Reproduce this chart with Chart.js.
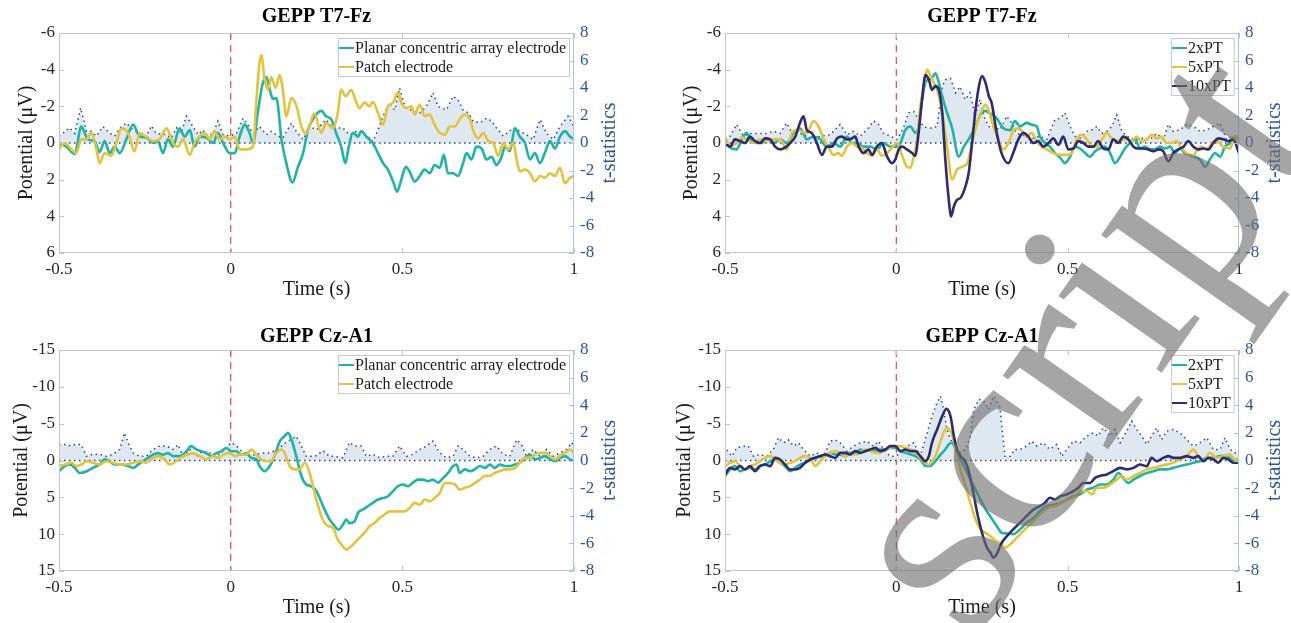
<!DOCTYPE html>
<html><head><meta charset="utf-8">
<script src="https://cdn.jsdelivr.net/npm/chart.js@4.4.1/dist/chart.umd.min.js"></script>
<style>
html,body{margin:0;padding:0;background:#fff;width:1291px;height:623px;overflow:hidden;position:relative}
canvas{position:absolute}
#wm{pointer-events:none}
</style></head><body>
<canvas id="c1" width="645" height="311" style="left:0;top:0"></canvas>
<canvas id="c2" width="646" height="311" style="left:645px;top:0"></canvas>
<canvas id="c3" width="645" height="312" style="left:0;top:311px"></canvas>
<canvas id="c4" width="646" height="312" style="left:645px;top:311px"></canvas>
<canvas id="wm" width="1291" height="623" style="left:0;top:0"></canvas>
<script>
// ---------- labels & ticks ----------
const panelTitles = ['GEPP T7-Fz', 'GEPP T7-Fz', 'GEPP Cz-A1', 'GEPP Cz-A1'];
const electrodeLabels = ['Planar concentric array electrode', 'Patch electrode'];
const pulseLabels = ['2xPT', '5xPT', '10xPT'];
const xTitle = 'Time (s)';
const yTitle = 'Potential (\u03BCV)';
const y2Title = 't-statistics';
const watermarkText = 'script';
const timeTicks = [-0.5, 0, 0.5, 1];
const ticksT7 = [-6, -4, -2, 0, 2, 4, 6];
const ticksCz = [-15, -10, -5, 0, 5, 10, 15];
const tTicks = [-8, -6, -4, -2, 0, 2, 4, 6, 8];
const stimulusTime = 0;

// ---------- panel 1: T7-Fz, electrodes ----------
const p1Planar = [[-0.5,0],[-0.479,0.2],[-0.454,0.6],[-0.435,-0.9],[-0.416,-0.2],[-0.396,-0.1],[-0.382,0.5],[-0.367,-0.1],[-0.352,0.55],[-0.338,0.2],[-0.323,0.55],[-0.304,-0.2],[-0.284,-1.0],[-0.265,-0.35],[-0.246,-0.3],[-0.226,0],[-0.212,-0.1],[-0.197,0.55],[-0.183,-0.2],[-0.168,0.2],[-0.149,-0.8],[-0.134,-0.35],[-0.119,-0.7],[-0.105,0.2],[-0.09,-0.35],[-0.071,-0.3],[-0.051,0],[-0.037,-0.55],[-0.022,0],[-0.003,0.55],[0.012,0.55],[0.026,-0.35],[0.041,-1.0],[0.055,-0.55],[0.065,0],[0.08,-1.8],[0.094,-3.3],[0.104,-3.6],[0.114,-2.9],[0.123,-2.4],[0.133,-2.45],[0.148,-0.2],[0.162,1.1],[0.18,2.15],[0.196,1.3],[0.211,0.55],[0.225,-0.7],[0.245,-1.45],[0.264,-1.75],[0.278,-1.45],[0.293,-1.3],[0.307,-0.55],[0.322,0.2],[0.334,1.1],[0.344,0.2],[0.356,-0.55],[0.371,-0.35],[0.38,-0.65],[0.395,-0.35],[0.414,0],[0.429,0.55],[0.444,1.1],[0.458,1.45],[0.473,2.1],[0.485,2.65],[0.497,2.0],[0.51,1.3],[0.521,1.55],[0.536,2.1],[0.551,1.8],[0.565,1.45],[0.58,1.65],[0.594,1.2],[0.609,1.35],[0.621,0.65],[0.633,1.65],[0.648,1.65],[0.662,1.8],[0.677,1.1],[0.687,0.55],[0.701,0.9],[0.716,0.2],[0.731,0.3],[0.745,0.9],[0.76,0.75],[0.774,1.2],[0.789,0.75],[0.799,0.2],[0.813,0.45],[0.828,-0.8],[0.842,-0.35],[0.857,0],[0.872,0.9],[0.886,0.55],[0.901,1.1],[0.915,0.55],[0.93,-0.1],[0.945,0.3],[0.959,-0.35],[0.974,-0.65],[0.988,-0.35],[1.0,-0.2]];
const p1Patch = [[-0.5,0.35],[-0.483,0],[-0.464,0.35],[-0.45,0.55],[-0.435,-0.2],[-0.42,-0.2],[-0.406,-0.55],[-0.391,0.35],[-0.382,1.1],[-0.367,0.55],[-0.348,0.7],[-0.333,0],[-0.318,-0.8],[-0.299,-0.55],[-0.28,0.45],[-0.265,-0.55],[-0.246,-0.35],[-0.226,-0.1],[-0.207,-0.2],[-0.187,-0.8],[-0.168,0],[-0.153,0.2],[-0.139,-0.2],[-0.119,0.65],[-0.105,0],[-0.09,-0.35],[-0.076,-0.55],[-0.061,-0.2],[-0.047,-0.65],[-0.032,-0.2],[-0.017,-0.35],[-0.003,-0.2],[0.012,-0.35],[0.026,0.35],[0.046,0.35],[0.065,0.2],[0.075,-2.35],[0.083,-4.2],[0.089,-4.8],[0.099,-3.45],[0.109,-2.9],[0.118,-3.6],[0.131,-3.0],[0.143,-3.7],[0.152,-2.9],[0.162,-1.45],[0.177,-2.45],[0.192,-2.0],[0.206,-0.9],[0.22,-0.5],[0.244,-1.6],[0.264,-0.55],[0.278,-1.1],[0.298,-0.8],[0.312,-1.65],[0.322,-2.9],[0.335,-2.55],[0.351,-2.9],[0.366,-2.2],[0.375,-1.9],[0.39,-2.2],[0.405,-2.0],[0.414,-2.25],[0.429,-1.65],[0.444,-1.0],[0.458,-2.0],[0.473,-2.2],[0.487,-2.75],[0.497,-2.2],[0.512,-1.9],[0.526,-2.0],[0.536,-1.55],[0.551,-2.1],[0.565,-1.45],[0.58,-1.55],[0.594,-1.0],[0.609,-0.55],[0.624,-0.45],[0.638,-0.9],[0.653,-0.9],[0.667,-1.3],[0.682,-1.55],[0.697,-1.3],[0.706,-0.7],[0.721,-0.25],[0.736,-0.55],[0.75,-0.1],[0.765,0],[0.779,0.7],[0.794,0],[0.808,0.35],[0.823,0],[0.833,0.9],[0.842,1.55],[0.857,1.45],[0.872,1.65],[0.886,2.1],[0.901,1.8],[0.915,1.9],[0.93,1.65],[0.945,1.8],[0.959,1.35],[0.974,2.2],[0.988,1.9],[1.0,1.8]];
const p1TStat = [[-0.5,0.5],[-0.469,1.1],[-0.454,0.7],[-0.437,2.55],[-0.42,0.85],[-0.406,0.85],[-0.391,0.5],[-0.372,1.2],[-0.352,0.7],[-0.338,0.5],[-0.323,1.1],[-0.304,1.45],[-0.284,0.95],[-0.265,0.7],[-0.246,0.5],[-0.231,1.25],[-0.217,0.7],[-0.187,0.6],[-0.173,0.35],[-0.158,1.1],[-0.144,0.7],[-0.129,1.95],[-0.11,1.2],[-0.095,0.6],[-0.081,0.95],[-0.066,0.5],[-0.051,0.7],[-0.037,1.6],[-0.022,0.6],[-0.003,0.5],[0.017,0.7],[0.036,1.8],[0.05,1.35],[0.065,0.7],[0.084,1.2],[0.104,0.6],[0.118,0.85],[0.138,0.5],[0.152,0.35],[0.177,1.45],[0.191,0.85],[0.211,0.25],[0.23,1.2],[0.25,0.95],[0.278,1.7],[0.298,1.1],[0.327,1.1],[0.346,0.6],[0.366,0.85],[0.395,0.6],[0.414,0.1],[0.429,0.95],[0.448,2.2],[0.463,2.9],[0.478,2.4],[0.492,4.0],[0.507,2.65],[0.531,2.3],[0.551,2.2],[0.57,2.65],[0.589,3.65],[0.604,2.65],[0.628,2.4],[0.648,3.4],[0.662,3.15],[0.677,2.4],[0.692,2.2],[0.706,1.6],[0.726,1.45],[0.745,1.8],[0.76,1.6],[0.774,1.1],[0.794,0.5],[0.823,1.1],[0.842,0.85],[0.862,0.6],[0.881,0.25],[0.901,1.7],[0.92,0.7],[0.94,0.25],[0.959,1.2],[0.983,1.95],[1.0,1.2]];

// ---------- panel 2: T7-Fz, pulse trains ----------
const p2Pulse2 = [[-0.5,0],[-0.48,0.3],[-0.466,0.35],[-0.451,-0.2],[-0.437,-0.55],[-0.422,-0.1],[-0.407,0],[-0.393,0],[-0.378,-0.2],[-0.359,0],[-0.339,-0.2],[-0.32,0],[-0.3,-0.55],[-0.281,-0.8],[-0.261,-0.2],[-0.242,-0.35],[-0.222,-0.2],[-0.203,0.2],[-0.183,0],[-0.164,0.2],[-0.144,-0.35],[-0.13,0],[-0.115,0],[-0.096,0.2],[-0.076,0.2],[-0.057,0.35],[-0.037,0],[-0.018,0.2],[-0.003,0.2],[0.012,0],[0.026,-0.7],[0.041,-0.9],[0.056,-0.55],[0.065,-0.9],[0.075,-2.35],[0.085,-3.3],[0.095,-3.45],[0.104,-3.55],[0.114,-3.8],[0.124,-3.3],[0.134,-2.55],[0.148,-1.65],[0.163,-0.8],[0.182,0.75],[0.197,0.2],[0.211,-0.2],[0.231,-0.9],[0.244,-1.5],[0.259,-1.75],[0.275,-1.6],[0.293,-1.35],[0.312,-0.8],[0.332,-0.7],[0.346,-1.2],[0.361,-0.9],[0.38,-1.1],[0.395,-1.0],[0.41,-0.9],[0.419,-0.35],[0.434,0],[0.448,0.2],[0.463,0.55],[0.478,0.8],[0.492,1.1],[0.507,0.75],[0.521,0.2],[0.536,0.3],[0.551,0.55],[0.565,0.75],[0.58,0.45],[0.594,0.3],[0.609,0.2],[0.624,0.55],[0.638,1.1],[0.653,0.75],[0.667,0.3],[0.682,0],[0.697,-0.2],[0.711,0.3],[0.726,0.2],[0.74,0.35],[0.755,0.35],[0.769,0.2],[0.784,0.3],[0.799,0.2],[0.813,0.55],[0.828,0.3],[0.842,0.55],[0.857,0.65],[0.872,0.75],[0.886,0.9],[0.901,1.3],[0.915,0.9],[0.93,0.55],[0.945,0.75],[0.959,0.2],[0.974,0],[0.988,-0.35],[1.0,-0.2]];
const p2Pulse5 = [[-0.5,-0.35],[-0.485,0.2],[-0.466,0],[-0.451,-0.3],[-0.437,-0.2],[-0.417,0],[-0.398,-0.2],[-0.378,-0.1],[-0.359,-0.2],[-0.339,-0.2],[-0.32,0.35],[-0.305,-0.55],[-0.29,-0.7],[-0.281,-0.65],[-0.261,-0.55],[-0.242,-1.2],[-0.227,-0.9],[-0.212,-0.2],[-0.198,0.25],[-0.183,0.65],[-0.169,0.55],[-0.159,0.7],[-0.144,0.2],[-0.13,0],[-0.115,0.2],[-0.101,0.25],[-0.086,0.55],[-0.071,0.7],[-0.057,0.35],[-0.042,0.7],[-0.027,0.55],[-0.013,0.25],[0.002,0],[0.017,0.7],[0.031,1.3],[0.041,1.35],[0.051,0.7],[0.061,-0.2],[0.07,-2.0],[0.08,-3.1],[0.09,-4.0],[0.1,-3.65],[0.109,-3.3],[0.119,-2.9],[0.134,-1.65],[0.148,0.2],[0.163,2.0],[0.177,1.45],[0.192,1.3],[0.207,1.1],[0.221,0],[0.236,-1.1],[0.25,-1.8],[0.26,-2.1],[0.272,-1.65],[0.283,-0.9],[0.298,-0.2],[0.312,0.35],[0.327,0],[0.341,-0.65],[0.356,-0.8],[0.371,-0.55],[0.38,-0.35],[0.395,-0.55],[0.41,-0.1],[0.424,0.2],[0.439,0.35],[0.458,0.55],[0.478,0.65],[0.497,0.65],[0.512,0.55],[0.526,-0.2],[0.541,-0.45],[0.556,-0.2],[0.571,0.2],[0.585,0.2],[0.6,-0.2],[0.614,-0.55],[0.629,-0.25],[0.643,-0.1],[0.658,-0.2],[0.672,-0.2],[0.687,-0.1],[0.701,-0.35],[0.716,-0.1],[0.731,-0.2],[0.745,-0.45],[0.76,-0.25],[0.774,-0.35],[0.789,0],[0.804,0],[0.818,-0.1],[0.833,0.3],[0.847,0.55],[0.862,0.75],[0.876,0.45],[0.891,0.2],[0.906,0.35],[0.92,0],[0.935,-0.1],[0.954,0.2],[0.974,0.3],[0.988,-0.35],[1.0,-0.2]];
const p2Pulse10 = [[-0.5,0],[-0.485,0.2],[-0.471,-0.2],[-0.456,-0.1],[-0.442,0],[-0.427,-0.35],[-0.412,-0.1],[-0.398,0],[-0.383,-0.25],[-0.368,-0.2],[-0.354,0.2],[-0.339,0.35],[-0.325,0.25],[-0.31,0],[-0.295,-0.35],[-0.281,-1.1],[-0.271,-1.45],[-0.261,-0.7],[-0.247,-0.55],[-0.232,0],[-0.217,0.65],[-0.203,0.2],[-0.188,0.2],[-0.173,-0.25],[-0.159,-0.35],[-0.144,-0.2],[-0.13,-0.25],[-0.12,-0.35],[-0.11,0.2],[-0.096,0.55],[-0.081,0.35],[-0.071,0.65],[-0.057,0.2],[-0.042,0],[-0.028,0.7],[-0.013,1.1],[-0.003,0.9],[0.007,0.35],[0.017,0.2],[0.031,0.35],[0.046,0.55],[0.055,0.7],[0.065,-0.55],[0.075,-2.35],[0.085,-3.7],[0.095,-3.45],[0.104,-2.9],[0.114,-3.1],[0.124,-2.9],[0.134,-1.65],[0.143,0.9],[0.153,3.1],[0.16,4.0],[0.168,3.45],[0.177,3.1],[0.187,3.0],[0.202,2.35],[0.211,1.65],[0.221,0],[0.231,-1.8],[0.241,-3.1],[0.25,-3.65],[0.26,-3.3],[0.27,-2.55],[0.278,-2.2],[0.293,-0.55],[0.307,0.55],[0.327,1.1],[0.341,0.55],[0.356,-0.2],[0.371,-0.55],[0.385,-0.35],[0.4,0],[0.414,-0.1],[0.429,0.2],[0.444,0],[0.458,-0.25],[0.473,0.1],[0.487,-0.35],[0.502,0.35],[0.517,0.3],[0.531,-0.1],[0.546,0],[0.56,0.2],[0.575,0.2],[0.589,-0.1],[0.604,0.3],[0.619,0.35],[0.633,-0.2],[0.648,0],[0.662,-0.35],[0.677,-0.2],[0.692,0.2],[0.706,0.3],[0.721,0.3],[0.735,0.35],[0.75,0.45],[0.765,0.35],[0.779,0.45],[0.794,1.0],[0.808,0.55],[0.823,0.35],[0.838,0.2],[0.852,-0.1],[0.867,0.2],[0.881,0.35],[0.896,0.3],[0.911,0.35],[0.925,0],[0.94,-0.25],[0.954,-0.2],[0.969,-0.1],[0.983,-0.2],[1.0,0.55]];
const p2TStat = [[-0.5,0.3],[-0.485,0.5],[-0.466,1.35],[-0.446,0.5],[-0.427,0.7],[-0.407,0.7],[-0.378,0.7],[-0.359,0.85],[-0.339,0.7],[-0.32,1.45],[-0.3,0.5],[-0.281,0.7],[-0.261,0.5],[-0.242,0.25],[-0.222,0.5],[-0.193,0.6],[-0.164,1.35],[-0.144,0.6],[-0.125,0.85],[-0.105,0.5],[-0.086,0.95],[-0.066,1.6],[-0.052,1.35],[-0.037,0.7],[-0.018,0.5],[0.002,0.25],[0.021,1.1],[0.036,2.2],[0.051,2.3],[0.065,1.7],[0.08,1.2],[0.09,1.1],[0.104,1.1],[0.119,1.2],[0.134,4.1],[0.143,4.6],[0.158,4.7],[0.173,3.65],[0.186,4.1],[0.201,3.15],[0.215,3.65],[0.23,1.95],[0.244,3.15],[0.259,1.7],[0.273,1.1],[0.283,1.2],[0.303,0.95],[0.322,1.95],[0.337,1.45],[0.351,0.7],[0.38,0.5],[0.4,0.35],[0.419,0.5],[0.439,0.25],[0.463,1.7],[0.478,1.8],[0.492,2.2],[0.507,1.2],[0.521,0.5],[0.536,0.35],[0.556,0.85],[0.57,0.95],[0.585,1.2],[0.6,0.7],[0.614,0.85],[0.629,1.2],[0.643,2.05],[0.658,0.85],[0.672,0.5],[0.692,0.25],[0.716,0.35],[0.74,0.25],[0.76,0.7],[0.779,0.25],[0.794,1.35],[0.808,0.85],[0.828,0.95],[0.847,1.35],[0.867,1.2],[0.886,0.85],[0.906,0.95],[0.925,1.2],[0.945,1.45],[0.964,0.25],[0.979,0.5],[1.0,0.5]];

// ---------- panel 3: Cz-A1, electrodes ----------
const p3Planar = [[-0.5,1.45],[-0.483,0.75],[-0.468,0.55],[-0.454,1.0],[-0.439,1.7],[-0.419,1.45],[-0.401,1.0],[-0.382,0.55],[-0.367,-0.15],[-0.353,0.1],[-0.338,0.55],[-0.318,0.55],[-0.299,0.75],[-0.284,1.0],[-0.27,0.55],[-0.255,0.1],[-0.241,-0.35],[-0.226,-0.8],[-0.212,-1.0],[-0.197,-0.8],[-0.183,-1.0],[-0.168,-0.6],[-0.149,-0.6],[-0.129,-1.25],[-0.115,-1.95],[-0.1,-1.5],[-0.085,-1.25],[-0.071,-1.0],[-0.056,-0.6],[-0.042,-1.0],[-0.027,-1.25],[-0.013,-1.7],[0.002,-1.25],[0.016,-1.25],[0.031,-0.8],[0.046,-1.0],[0.06,-0.35],[0.075,-0.15],[0.084,0.75],[0.099,1.45],[0.114,0.75],[0.128,-0.6],[0.143,-2.6],[0.157,-3.3],[0.167,-3.75],[0.177,-2.85],[0.191,-0.6],[0.206,2.1],[0.22,3.25],[0.235,3.5],[0.25,4.15],[0.262,5.4],[0.275,6.8],[0.288,8.0],[0.303,8.9],[0.314,9.4],[0.327,8.7],[0.337,8.0],[0.346,8.5],[0.361,8.25],[0.371,7.1],[0.385,6.65],[0.4,6.2],[0.414,5.75],[0.429,5.3],[0.444,5.1],[0.458,4.85],[0.473,4.15],[0.487,3.5],[0.502,3.25],[0.517,3.5],[0.531,3.0],[0.546,2.6],[0.56,2.6],[0.575,2.8],[0.589,2.6],[0.604,3.0],[0.619,2.35],[0.633,1.7],[0.648,0.75],[0.658,0.55],[0.667,1.7],[0.682,1.2],[0.697,1.45],[0.711,1.2],[0.726,0.75],[0.74,1.0],[0.755,0.55],[0.769,1.0],[0.784,0.55],[0.799,0.75],[0.813,0.75],[0.828,0.55],[0.842,0.3],[0.857,-0.35],[0.872,-0.8],[0.886,-0.15],[0.901,-0.35],[0.915,-0.6],[0.93,-0.15],[0.945,0.1],[0.959,-0.35],[0.974,-0.6],[0.988,-0.15],[1.0,0.1]];
const p3Patch = [[-0.5,0.75],[-0.483,0.55],[-0.464,0.3],[-0.45,0.75],[-0.435,0.55],[-0.42,0.1],[-0.401,0.3],[-0.382,0.55],[-0.362,0.1],[-0.343,0.3],[-0.323,0.55],[-0.304,0.55],[-0.284,0.3],[-0.265,0.1],[-0.246,0.3],[-0.226,-0.35],[-0.212,-0.6],[-0.192,-0.15],[-0.178,0.55],[-0.158,0.1],[-0.139,-0.6],[-0.124,-0.8],[-0.11,-1.0],[-0.09,-0.6],[-0.071,-0.15],[-0.051,-0.6],[-0.037,-0.35],[-0.022,-0.8],[-0.003,-1.0],[0.012,-0.6],[0.026,-0.8],[0.046,-0.8],[0.06,-1.5],[0.075,-0.8],[0.089,-0.15],[0.104,0.1],[0.118,0.1],[0.133,-1.05],[0.148,-1.5],[0.157,-1.05],[0.172,0.75],[0.186,1.2],[0.2,1.2],[0.216,0.3],[0.23,1.7],[0.247,4.85],[0.264,7.55],[0.28,8.8],[0.298,9.15],[0.312,10.75],[0.327,11.65],[0.337,12.1],[0.346,11.85],[0.361,11.2],[0.375,10.5],[0.39,9.8],[0.405,8.9],[0.419,8.5],[0.434,7.8],[0.448,7.35],[0.463,6.9],[0.478,6.9],[0.492,6.9],[0.507,6.9],[0.521,6.45],[0.536,5.75],[0.551,6.0],[0.565,5.3],[0.58,5.55],[0.594,5.1],[0.609,4.4],[0.624,3.05],[0.638,3.05],[0.653,3.25],[0.667,3.95],[0.682,3.7],[0.697,3.5],[0.711,3.05],[0.726,2.6],[0.74,2.1],[0.755,2.1],[0.769,1.7],[0.784,1.45],[0.799,1.2],[0.813,1.2],[0.828,1.0],[0.842,0.3],[0.857,-0.35],[0.872,-0.35],[0.886,-0.8],[0.901,-1.05],[0.915,-1.05],[0.93,-0.6],[0.945,-0.15],[0.959,-0.6],[0.974,-1.05],[0.988,-1.5],[1.0,-1.05]];
const p3TStat = [[-0.5,1.15],[-0.483,1.15],[-0.464,1.05],[-0.454,1.15],[-0.435,1.15],[-0.42,0.3],[-0.401,0.45],[-0.382,0.45],[-0.362,0.3],[-0.343,0.45],[-0.323,0.8],[-0.309,2.0],[-0.299,1.3],[-0.284,0.55],[-0.265,0.3],[-0.246,0.3],[-0.226,0.8],[-0.207,1.05],[-0.187,1.05],[-0.168,0.8],[-0.153,1.15],[-0.139,0.3],[-0.119,0.8],[-0.1,0.3],[-0.081,0.7],[-0.061,0.55],[-0.042,0.3],[-0.022,0.7],[0.002,1.3],[0.017,1.05],[0.036,0.55],[0.055,0.3],[0.075,0.45],[0.094,0.55],[0.114,0.55],[0.138,0.8],[0.152,1.15],[0.167,1.4],[0.191,1.75],[0.206,1.05],[0.22,0.3],[0.245,0.3],[0.269,0.7],[0.288,0.3],[0.298,0.3],[0.327,0.2],[0.346,1.3],[0.361,1.05],[0.38,1.05],[0.395,0.3],[0.414,0.45],[0.434,0.2],[0.453,0.3],[0.473,0.3],[0.492,1.05],[0.512,0.3],[0.531,0.45],[0.551,0.8],[0.57,1.05],[0.589,1.4],[0.609,0.55],[0.628,0.2],[0.648,0.3],[0.662,1.05],[0.677,0.8],[0.697,0.3],[0.716,0.2],[0.735,0.3],[0.755,0.8],[0.774,1.05],[0.794,0.45],[0.813,0.3],[0.833,1.5],[0.847,1.15],[0.862,0.3],[0.881,0.8],[0.901,0.3],[0.92,0.8],[0.94,0.3],[0.959,0.55],[0.979,0.8],[0.993,1.3],[1.0,1.0]];

// ---------- panel 4: Cz-A1, pulse trains ----------
const p4Pulse2 = [[-0.5,2.1],[-0.485,1.2],[-0.471,0.75],[-0.456,1.45],[-0.442,1.2],[-0.427,1.0],[-0.412,1.2],[-0.398,0.75],[-0.383,0.55],[-0.368,0.1],[-0.354,-0.15],[-0.339,0.3],[-0.325,0.75],[-0.31,1.45],[-0.295,1.0],[-0.281,0.55],[-0.266,0.3],[-0.251,-0.15],[-0.237,-0.35],[-0.222,-0.6],[-0.208,-0.6],[-0.193,-1.05],[-0.178,-0.8],[-0.164,-0.8],[-0.149,-0.6],[-0.135,-1.05],[-0.12,-1.05],[-0.105,-1.5],[-0.091,-1.25],[-0.076,-1.5],[-0.061,-1.25],[-0.047,-1.5],[-0.032,-1.5],[-0.018,-1.7],[-0.003,-1.7],[0.012,-1.25],[0.026,-1.05],[0.041,-0.8],[0.056,-0.6],[0.07,-0.15],[0.085,0.75],[0.099,0.75],[0.114,0.1],[0.129,-0.8],[0.143,-1.5],[0.153,-2.2],[0.163,-2.4],[0.173,-1.5],[0.182,-0.6],[0.197,0.75],[0.211,2.1],[0.226,3.5],[0.241,4.85],[0.255,6.2],[0.27,7.3],[0.293,8.9],[0.307,9.8],[0.322,9.9],[0.341,10.0],[0.361,9.35],[0.38,8.45],[0.4,7.8],[0.419,6.9],[0.439,6.2],[0.458,6.0],[0.478,5.75],[0.497,5.3],[0.517,4.85],[0.536,4.6],[0.556,3.95],[0.575,3.7],[0.594,3.25],[0.614,3.25],[0.633,2.6],[0.648,1.7],[0.662,2.35],[0.677,3.05],[0.692,2.6],[0.711,2.1],[0.731,1.7],[0.75,1.45],[0.769,1.2],[0.789,1.2],[0.808,1.0],[0.828,0.75],[0.847,0.55],[0.867,0.3],[0.886,0.1],[0.906,-0.35],[0.925,-0.35],[0.945,-0.6],[0.964,-0.6],[0.983,0.1],[1.0,0.3]];
const p4Pulse5 = [[-0.5,0.77],[-0.485,0.32],[-0.471,0.09],[-0.456,0.77],[-0.442,1.22],[-0.427,0.77],[-0.412,0.54],[-0.398,0.09],[-0.383,-0.36],[-0.368,-0.59],[-0.354,-0.14],[-0.339,0.32],[-0.325,0.54],[-0.31,0.32],[-0.295,0.09],[-0.281,-0.36],[-0.266,-0.59],[-0.251,-0.36],[-0.237,0.77],[-0.222,0.09],[-0.208,-0.59],[-0.193,-1.04],[-0.178,-1.27],[-0.164,-1.04],[-0.149,-0.59],[-0.135,-0.81],[-0.12,-0.81],[-0.105,-1.04],[-0.091,-1.49],[-0.076,-1.27],[-0.061,-1.04],[-0.047,-1.04],[-0.032,-1.49],[-0.018,-1.72],[-0.003,-1.95],[0.012,-1.95],[0.026,-1.72],[0.041,-1.49],[0.056,-1.04],[0.07,-0.36],[0.085,0.32],[0.095,0.54],[0.104,0.09],[0.114,-0.59],[0.129,-2.62],[0.138,-3.76],[0.148,-4.43],[0.158,-3.98],[0.168,-2.62],[0.177,-0.59],[0.187,1.22],[0.202,3.48],[0.216,5.75],[0.231,8.01],[0.246,9.37],[0.26,9.82],[0.275,10.27],[0.29,10.9],[0.302,11.2],[0.317,11.85],[0.332,11.4],[0.346,10.75],[0.366,9.8],[0.385,8.9],[0.405,8.0],[0.424,7.1],[0.444,6.4],[0.463,6.2],[0.483,5.75],[0.502,5.3],[0.521,4.85],[0.541,4.15],[0.556,4.15],[0.571,4.6],[0.585,3.7],[0.604,3.7],[0.624,3.25],[0.643,2.6],[0.658,2.1],[0.672,2.6],[0.692,2.1],[0.711,1.7],[0.731,1.2],[0.75,1.0],[0.769,0.75],[0.789,0.55],[0.808,0.3],[0.828,-0.15],[0.847,-0.6],[0.867,-1.5],[0.881,-0.6],[0.896,0.1],[0.915,-1.05],[0.935,-0.35],[0.954,-0.6],[0.974,-0.8],[0.988,-0.15],[1.0,-0.15]];
const p4Pulse10 = [[-0.5,1.9],[-0.485,1.0],[-0.471,1.22],[-0.456,0.77],[-0.442,1.22],[-0.427,0.77],[-0.412,1.45],[-0.398,0.77],[-0.383,0.54],[-0.368,0.77],[-0.354,-0.36],[-0.339,-0.14],[-0.325,0.54],[-0.31,1.22],[-0.295,1.22],[-0.281,1.0],[-0.266,0.32],[-0.251,-0.14],[-0.237,-0.36],[-0.222,-0.59],[-0.208,-0.81],[-0.193,-0.59],[-0.178,-0.36],[-0.164,-1.04],[-0.149,-1.04],[-0.135,-0.81],[-0.12,-1.27],[-0.105,-1.04],[-0.091,-1.27],[-0.076,-1.49],[-0.061,-1.72],[-0.047,-1.27],[-0.032,-1.49],[-0.018,-1.95],[-0.003,-1.95],[0.012,-1.27],[0.026,-1.49],[0.041,-1.27],[0.056,-1.27],[0.07,-0.59],[0.085,0.09],[0.095,-0.59],[0.104,-2.4],[0.119,-4.21],[0.134,-6.02],[0.146,-7.01],[0.158,-6.02],[0.168,-3.3],[0.177,-1.49],[0.187,-0.59],[0.197,-0.14],[0.207,0.77],[0.221,3.48],[0.236,7.1],[0.25,9.82],[0.265,11.86],[0.275,12.53],[0.283,13.2],[0.293,12.7],[0.307,11.2],[0.322,10.3],[0.341,9.35],[0.361,8.45],[0.38,7.55],[0.4,6.65],[0.419,6.2],[0.434,5.75],[0.448,5.05],[0.463,5.3],[0.478,4.85],[0.497,4.6],[0.517,4.15],[0.531,3.7],[0.546,3.05],[0.565,3.05],[0.58,2.35],[0.594,2.1],[0.614,1.9],[0.633,1.45],[0.653,1.0],[0.672,1.2],[0.692,1.0],[0.711,0.55],[0.731,0.77],[0.745,-0.35],[0.76,0.1],[0.779,-0.35],[0.794,-0.6],[0.808,-0.35],[0.828,-0.35],[0.847,-0.6],[0.867,-0.35],[0.881,-0.6],[0.896,0.1],[0.91,-0.35],[0.925,-0.15],[0.94,0.3],[0.954,-0.35],[0.969,-0.15],[0.983,0.3],[1.0,0.3]];
const p4TStat = [[-0.5,0.5],[-0.495,0.8],[-0.48,0.3],[-0.466,0.92],[-0.446,1.04],[-0.432,1.04],[-0.417,0.3],[-0.398,0.44],[-0.378,0.3],[-0.359,0.8],[-0.344,1.65],[-0.329,1.28],[-0.315,1.5],[-0.3,1.04],[-0.286,1.28],[-0.271,0.8],[-0.251,0.3],[-0.232,0.56],[-0.212,0.3],[-0.193,1.4],[-0.178,1.5],[-0.164,1.28],[-0.144,0.68],[-0.125,1.04],[-0.105,1.28],[-0.086,1.4],[-0.066,1.04],[-0.052,1.4],[-0.037,0.8],[-0.018,0.3],[-0.003,0.3],[0.012,0.56],[0.031,1.04],[0.051,1.28],[0.07,0.3],[0.09,2.0],[0.104,3.2],[0.119,4.2],[0.129,4.65],[0.138,3.7],[0.148,2.25],[0.158,1.5],[0.168,1.28],[0.177,0.8],[0.187,0.56],[0.202,0.8],[0.216,1.77],[0.226,3.7],[0.241,4.43],[0.255,4.3],[0.27,3.7],[0.283,4.65],[0.302,3.9],[0.317,0.3],[0.332,0.3],[0.346,0.8],[0.361,0.8],[0.38,1.04],[0.395,1.4],[0.41,1.04],[0.429,1.28],[0.448,0.8],[0.468,1.16],[0.483,0.3],[0.497,0.8],[0.517,1.4],[0.536,1.28],[0.556,1.77],[0.575,2.0],[0.589,1.77],[0.604,2.36],[0.624,1.77],[0.638,2.25],[0.653,1.28],[0.672,2.13],[0.687,2.85],[0.701,2.25],[0.716,1.77],[0.731,1.16],[0.745,1.77],[0.76,2.36],[0.774,1.52],[0.789,2.13],[0.808,2.25],[0.828,2.0],[0.847,1.52],[0.867,1.04],[0.886,1.28],[0.906,1.65],[0.925,0.8],[0.945,0.8],[0.959,1.65],[0.974,0.8],[0.988,0.56],[1.0,0.5]];

// ---------- styling ----------
const FONT = "'Liberation Serif', 'Times New Roman', serif";
const TEAL = '#1fb3a5', YELLOW = '#e3c23d', NAVY = '#2e2b6e';
const TDOT = '#2a4388', TFILL = 'rgba(220,229,240,0.9)';
const BLUE = '#2f5597', FRAME = '#c4c4c4', RFRAME = '#a9c5e6';

function makePanel(id, cfg) {
  const canvas = document.getElementById(id);
  const W = canvas.width, H = canvas.height;
  const g = cfg.geo;
  const datasets = cfg.series.map((s, i) => ({
    label: s.label, data: s.data, yAxisID: 'y', borderColor: s.color, borderWidth: 2.6,
    pointRadius: 0, fill: false, cubicInterpolationMode: 'monotone', order: 5 - i
  }));
  datasets.push({ label: 't', data: cfg.tstat, yAxisID: 'y2', borderColor: TDOT, backgroundColor: TFILL,
    borderWidth: 1.5, borderDash: [1.5, 3.5], pointRadius: 0, fill: 'origin', tension: 0, order: 20 });
  datasets.push({ label: 'zero', data: [[timeTicks[0], 0], [timeTicks[timeTicks.length - 1], 0]], yAxisID: 'y2',
    borderColor: TDOT, borderWidth: 1.5, borderDash: [1.5, 3.5], pointRadius: 0, fill: false, order: 19 });

  const deco = {
    id: 'deco',
    beforeDatasetsDraw(chart) {
      const c = chart.ctx, a = chart.chartArea, xs = chart.scales.x;
      const x0 = xs.getPixelForValue(stimulusTime);
      c.save();
      c.strokeStyle = '#e05a5a'; c.lineWidth = 1.3; c.setLineDash([7, 5]);
      c.beginPath(); c.moveTo(x0, a.top); c.lineTo(x0, a.bottom); c.stroke();
      c.restore();
    },
    afterDraw(chart) {
      const c = chart.ctx, a = chart.chartArea, xs = chart.scales.x, ys = chart.scales.y, y2 = chart.scales.y2;
      c.save();
      c.lineWidth = 1; c.strokeStyle = FRAME;
      c.beginPath();
      c.moveTo(a.right, a.top + 0.5); c.lineTo(a.left + 0.5, a.top + 0.5); c.lineTo(a.left + 0.5, a.bottom - 0.5); c.lineTo(a.right, a.bottom - 0.5);
      c.stroke();
      timeTicks.forEach(v => { const px = Math.round(xs.getPixelForValue(v)) + 0.5;
        c.beginPath(); c.moveTo(px, a.bottom); c.lineTo(px, a.bottom - 5); c.moveTo(px, a.top); c.lineTo(px, a.top + 5); c.stroke(); });
      cfg.yTicks.forEach(v => { const py = Math.round(ys.getPixelForValue(v)) + 0.5;
        c.beginPath(); c.moveTo(a.left, py); c.lineTo(a.left + 5, py); c.stroke(); });
      c.strokeStyle = RFRAME;
      c.beginPath(); c.moveTo(a.right - 0.5, a.top); c.lineTo(a.right - 0.5, a.bottom); c.stroke();
      tTicks.forEach(v => { const py = Math.round(y2.getPixelForValue(v)) + 0.5;
        c.beginPath(); c.moveTo(a.right, py); c.lineTo(a.right - 5, py); c.stroke(); });
      c.fillStyle = '#000'; c.textAlign = 'center'; c.textBaseline = 'middle';
      c.font = 'bold 20px ' + FONT;
      c.fillText(cfg.title, (a.left + a.right) / 2, a.top - g.titleGap);
      c.fillStyle = '#1a1a1a';
      c.font = '20px ' + FONT;
      c.fillText(xTitle, (a.left + a.right) / 2, a.bottom + 37);
      c.save(); c.translate(a.left - g.yTitleGap, (a.top + a.bottom) / 2); c.rotate(-Math.PI / 2);
      c.fillText(yTitle, 0, 0); c.restore();
      c.fillStyle = BLUE;
      c.save(); c.translate(a.right + 36, (a.top + a.bottom) / 2); c.rotate(-Math.PI / 2);
      c.fillText(y2Title, 0, 0); c.restore();
      c.font = '16px ' + FONT;
      const tw = Math.max(...cfg.series.map(s => c.measureText(s.label).width));
      const bw = 17 + tw + 3, rowH = 19, bh = rowH * cfg.series.length;
      const bx = Math.round(a.right - 5 - bw), by = Math.round(a.top + 5);
      c.fillStyle = '#fff'; c.fillRect(bx, by, bw, bh);
      c.strokeStyle = '#c8c8c8'; c.lineWidth = 1; c.strokeRect(bx + 0.5, by + 0.5, bw, bh);
      c.textAlign = 'left';
      cfg.series.forEach((s, i) => {
        const cy = by + 10 + i * rowH;
        c.strokeStyle = s.color; c.lineWidth = 2; c.beginPath(); c.moveTo(bx + 1, cy); c.lineTo(bx + 16, cy); c.stroke();
        c.fillStyle = '#1a1a1a'; c.fillText(s.label, bx + 17, cy + 1);
      });
      c.restore();
    }
  };

  const tickFont = { family: FONT, size: 17 };
  return new Chart(canvas, {
    type: 'line',
    data: { datasets },
    options: {
      responsive: false, animation: false, devicePixelRatio: 1, events: [],
      layout: { padding: { top: g.top, left: 0, right: 0, bottom: 0 } },
      plugins: { legend: { display: false }, tooltip: { enabled: false }, title: { display: false } },
      scales: {
        x: { type: 'linear', position: 'bottom', min: timeTicks[0], max: timeTicks[timeTicks.length - 1],
          afterBuildTicks: s => { s.ticks = timeTicks.map(v => ({ value: v })); },
          afterFit: s => { s.height = H - g.bottom; },
          grid: { display: false, drawTicks: false }, border: { display: false },
          ticks: { font: tickFont, color: '#262626', padding: 6, maxRotation: 0, autoSkip: false, callback: v => String(v) } },
        y: { type: 'linear', position: 'left', reverse: true, min: cfg.yTicks[0], max: cfg.yTicks[cfg.yTicks.length - 1],
          afterBuildTicks: s => { s.ticks = cfg.yTicks.map(v => ({ value: v })); },
          afterFit: s => { s.width = g.left; },
          grid: { display: false, drawTicks: false }, border: { display: false },
          ticks: { font: tickFont, color: '#262626', padding: 4, autoSkip: false, callback: v => String(v) } },
        y2: { type: 'linear', position: 'right', min: tTicks[0], max: tTicks[tTicks.length - 1],
          afterBuildTicks: s => { s.ticks = tTicks.map(v => ({ value: v })); },
          afterFit: s => { s.width = W - g.right; },
          grid: { display: false, drawTicks: false }, border: { display: false },
          ticks: { font: tickFont, color: BLUE, padding: 6, autoSkip: false, callback: v => String(v) } }
      }
    },
    plugins: [deco]
  });
}

const geoTopL = { top: 33, bottom: 253, left: 59, right: 574, titleGap: 16, yTitleGap: 32 };
const geoTopR = { top: 33, bottom: 253, left: 80, right: 594, titleGap: 16, yTitleGap: 33 };
const geoBotL = { top: 39, bottom: 260, left: 59, right: 574, titleGap: 13, yTitleGap: 37 };
const geoBotR = { top: 39, bottom: 260, left: 80, right: 594, titleGap: 13, yTitleGap: 40 };

makePanel('c1', { geo: geoTopL, title: panelTitles[0], yTicks: ticksT7, tstat: p1TStat,
  series: [{ label: electrodeLabels[0], data: p1Planar, color: TEAL }, { label: electrodeLabels[1], data: p1Patch, color: YELLOW }] });
makePanel('c2', { geo: geoTopR, title: panelTitles[1], yTicks: ticksT7, tstat: p2TStat,
  series: [{ label: pulseLabels[0], data: p2Pulse2, color: TEAL }, { label: pulseLabels[1], data: p2Pulse5, color: YELLOW }, { label: pulseLabels[2], data: p2Pulse10, color: NAVY }] });
makePanel('c3', { geo: geoBotL, title: panelTitles[2], yTicks: ticksCz, tstat: p3TStat,
  series: [{ label: electrodeLabels[0], data: p3Planar, color: TEAL }, { label: electrodeLabels[1], data: p3Patch, color: YELLOW }] });
makePanel('c4', { geo: geoBotR, title: panelTitles[3], yTicks: ticksCz, tstat: p4TStat,
  series: [{ label: pulseLabels[0], data: p4Pulse2, color: TEAL }, { label: pulseLabels[1], data: p4Pulse5, color: YELLOW }, { label: pulseLabels[2], data: p4Pulse10, color: NAVY }] });

// ---------- diagonal manuscript watermark ----------
(function () {
  const c = document.getElementById('wm').getContext('2d');
  c.save();
  c.translate(971, 645);
  c.rotate(-55 * Math.PI / 180);
  c.font = '280px ' + FONT;
  c.textAlign = 'left'; c.textBaseline = 'alphabetic';
  c.fillStyle = 'rgba(110,110,110,0.62)';
  c.fillText(watermarkText, 0, 0);
  c.restore();
})();
</script>
</body></html>
